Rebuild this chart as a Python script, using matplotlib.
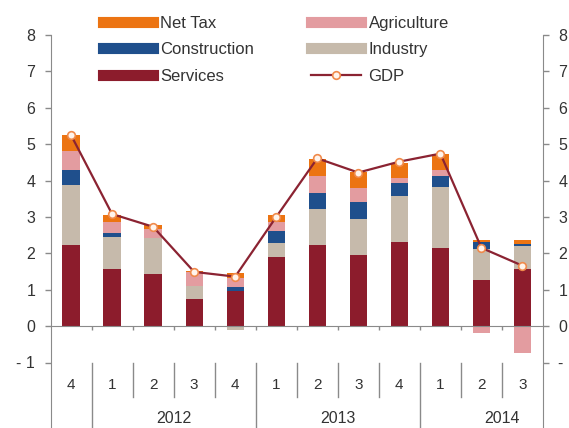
import numpy as np
import matplotlib.pyplot as plt
from matplotlib.lines import Line2D

plt.rcParams['font.family'] = ['Liberation Sans', 'DejaVu Sans']

quarters = ["4", "1", "2", "3", "4", "1", "2", "3", "4", "1", "2", "3"]
years = ["2012", "2013", "2014"]

services = [2.23, 1.56, 1.43, 0.74, 0.97, 1.89, 2.23, 1.95, 2.32, 2.16, 1.28, 1.56]
industry = [1.66, 0.89, 0.98, 0.37, -0.12, 0.40, 1.00, 0.99, 1.25, 1.67, 0.85, 0.65]
construction = [0.40, 0.12, -0.03, -0.03, 0.11, 0.33, 0.43, 0.48, 0.37, 0.29, 0.19, 0.06]
agriculture = [0.52, 0.30, 0.27, 0.38, 0.23, 0.25, 0.46, 0.38, 0.12, 0.17, -0.20, -0.75]
net_tax = [0.44, 0.18, 0.09, 0.03, 0.14, 0.18, 0.46, 0.44, 0.43, 0.45, 0.04, 0.11]
gdp = [5.25, 3.08, 2.73, 1.49, 1.36, 3.00, 4.61, 4.22, 4.52, 4.74, 2.15, 1.66]

series = [("Services", services, "#8c1c2c"),
          ("Industry", industry, "#c6baab"),
          ("Construction", construction, "#1f4f8c"),
          ("Agriculture", agriculture, "#e39ca0"),
          ("Net Tax", net_tax, "#ec7412")]

fig = plt.figure(figsize=(5.69, 4.28), dpi=100)
ax = fig.add_axes([50.5/569, 0, (543-50.5)/569, (428-35)/428])

x = np.arange(len(quarters))
pos = np.zeros(len(x))
neg = np.zeros(len(x))
for name, vals, col in series:
    v = np.array(vals)
    bottom = np.where(v >= 0, pos, neg)
    ax.bar(x, v, 0.42, bottom=bottom, color=col, zorder=2)
    pos = pos + np.where(v >= 0, v, 0)
    neg = neg + np.where(v < 0, v, 0)

ax.plot(x, gdp, color="#8b2332", lw=1.6, marker="o", ms=5.5,
        mfc="#fff4ec", mec="#f08a4b", mew=1.2, zorder=3)

ax.set_xlim(-0.5, 11.5)
ax.set_ylim(-2.8, 8)
yt = list(range(-1, 9))
ylab = ["- 1" if t < 0 else str(t) for t in yt]
ax.set_yticks(yt)
ax.set_yticklabels(ylab)

ax2 = ax.twinx()
ax2.set_ylim(ax.get_ylim())
ax2.set_yticks(yt)
ax2.set_yticklabels(ylab)

for a in (ax, ax2):
    a.spines['top'].set_visible(False)
    for s in ('left', 'right'):
        a.spines[s].set_color("#8a8a8a")
        a.spines[s].set_bounds(-2.8, 8)
    a.tick_params(axis='y', colors="#8a8a8a", labelcolor="#333333",
                  labelsize=11.5, length=4, width=1, pad=7)
ax2.spines['bottom'].set_visible(False)
ax2.spines['left'].set_visible(False)
ax.spines['right'].set_visible(False)

ax.spines['bottom'].set_position(('data', 0))
ax.spines['bottom'].set_color("#8a8a8a")
ax.set_xticks(np.arange(0.5, 11, 1))
ax.set_xticklabels([])
ax.tick_params(axis='x', colors="#8a8a8a", length=3, width=1)

# category labels
for i, q in enumerate(quarters):
    ax.text(i, -1.62, q, ha="center", va="center", fontsize=11, color="#333333")
for k, yr in enumerate(years):
    ax.text(2.5 + 4*k, -2.53, yr, ha="center", va="center", fontsize=11.5, color="#333333")
for b in np.arange(0.5, 11, 1):
    if b in (0.5, 4.5, 8.5):
        ax.plot([b, b], [-1.02, -2.8], color="#8a8a8a", lw=1, clip_on=False)
    else:
        ax.plot([b, b], [-1.02, -1.95], color="#8a8a8a", lw=1, clip_on=False)

handles = [Line2D([], [], color="#ec7412", lw=8),
           Line2D([], [], color="#1f4f8c", lw=8),
           Line2D([], [], color="#8c1c2c", lw=8),
           Line2D([], [], color="#e39ca0", lw=8),
           Line2D([], [], color="#c6baab", lw=8),
           Line2D([], [], color="#8b2332", lw=1.6, marker="o", ms=5.5,
                  mfc="#fff4ec", mec="#f08a4b", mew=1.2)]
labels = ["Net Tax", "Construction", "Services", "Agriculture", "Industry", "GDP"]
fig.legend(handles, labels, ncol=2, frameon=False, loc="upper left",
           bbox_to_anchor=(88/569, 1 - 1/428), fontsize=12, handlelength=3.0,
           handletextpad=0.45, columnspacing=3.4, labelspacing=0.68,
           labelcolor="#333333")

fig.savefig("out.png", dpi=100)
